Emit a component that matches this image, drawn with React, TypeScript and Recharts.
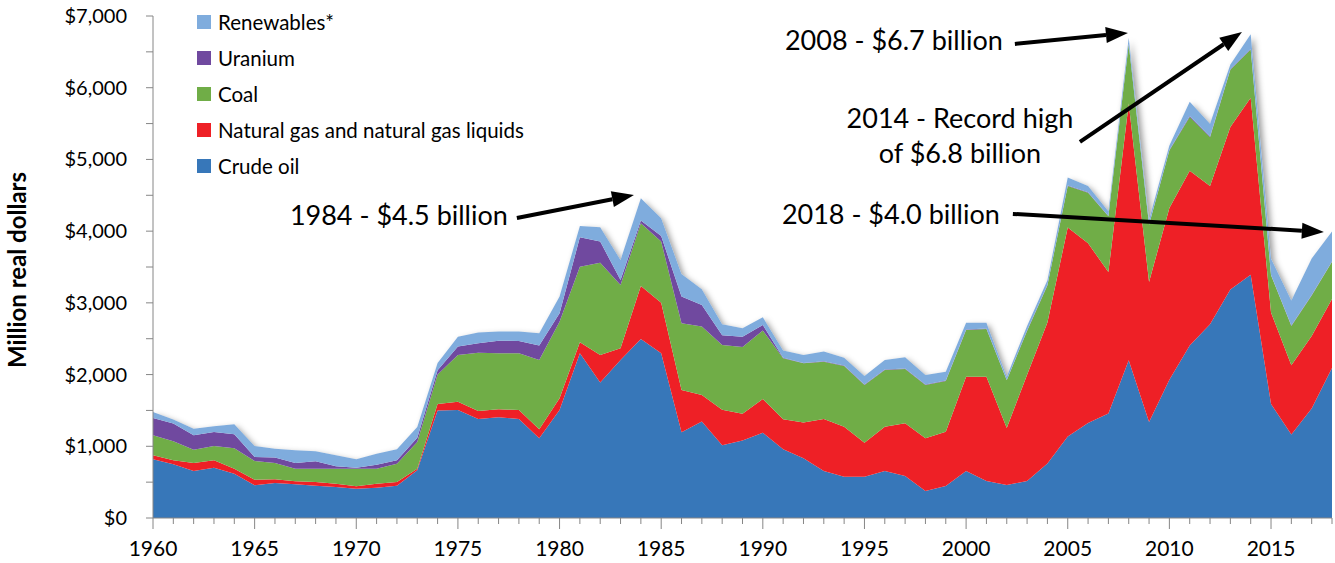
import { AreaChart, Area, XAxis, YAxis, Legend, ReferenceLine, Label } from 'recharts';

const years = [
  1960, 1961, 1962, 1963, 1964, 1965, 1966, 1967, 1968, 1969,
  1970, 1971, 1972, 1973, 1974, 1975, 1976, 1977, 1978, 1979,
  1980, 1981, 1982, 1983, 1984, 1985, 1986, 1987, 1988, 1989,
  1990, 1991, 1992, 1993, 1994, 1995, 1996, 1997, 1998, 1999,
  2000, 2001, 2002, 2003, 2004, 2005, 2006, 2007, 2008, 2009,
  2010, 2011, 2012, 2013, 2014, 2015, 2016, 2017, 2018,
];

const crudeOil = [
  818, 749, 656, 702, 618, 456, 488, 470, 451, 432,
  409, 423, 451, 665, 1500, 1506, 1381, 1404, 1381, 1111,
  1506, 2297, 1888, 2204, 2497, 2297, 1195, 1344, 1013, 1080,
  1190, 958, 832, 656, 576, 576, 656, 586, 377, 446,
  656, 516, 460, 517, 761, 1137, 1325, 1457, 2200, 1340,
  1927, 2406, 2703, 3187, 3393, 1589, 1166, 1528, 2092,
];
const naturalGas = [
  56, 56, 111, 103, 70, 79, 51, 42, 51, 47,
  33, 56, 51, 23, 90, 116, 111, 112, 125, 126,
  163, 153, 385, 162, 739, 706, 590, 371, 497, 375,
  470, 418, 498, 725, 698, 475, 618, 734, 734, 758,
  1315, 1455, 795, 1481, 1965, 2914, 2506, 1974, 3581, 1950,
  2397, 2435, 1927, 2265, 2468, 1278, 963, 1010, 963,
];
const coal = [
  279, 265, 186, 199, 284, 260, 228, 176, 186, 209,
  246, 209, 256, 372, 410, 651, 814, 781, 791, 967,
  1069, 1055, 1288, 884, 874, 851, 930, 954, 903, 928,
  953, 851, 827, 799, 846, 804, 790, 758, 744, 707,
  651, 665, 665, 611, 517, 579, 705, 776, 823, 799,
  799, 752, 681, 799, 672, 517, 550, 564, 517,
];
const uranium = [
  242, 246, 200, 196, 195, 56, 75, 79, 102, 33,
  14, 56, 47, 60, 60, 117, 130, 176, 172, 200,
  117, 409, 293, 69, 37, 79, 372, 302, 137, 146,
  79, 9, 5, 5, 5, 5, 5, 5, 5, 5,
  5, 5, 5, 5, 5, 5, 5, 5, 5, 5,
  10, 12, 9, 5, 7, 6, 6, 6, 6,
];
const renewables = [
  84, 56, 93, 79, 140, 153, 125, 177, 140, 153,
  116, 153, 153, 150, 100, 139, 149, 126, 130, 172,
  232, 159, 200, 279, 311, 246, 316, 218, 150, 116,
  107, 98, 111, 135, 111, 120, 135, 158, 134, 125,
  97, 83, 45, 65, 66, 112, 89, 65, 89, 66,
  61, 200, 179, 66, 205, 229, 347, 511, 417,
];

const yTicks = [0, 500, 1000, 1500, 2000, 2500, 3000, 3500, 4000, 4500, 5000, 5500, 6000, 6500, 7000];

const series = [
  { key: 'crude', name: 'Crude oil', color: '#3777b9' },
  { key: 'gas', name: 'Natural gas and natural gas liquids', color: '#ee2026' },
  { key: 'coal', name: 'Coal', color: '#70ad47' },
  { key: 'uranium', name: 'Uranium', color: '#70499f' },
  { key: 'renewables', name: 'Renewables*', color: '#7facdd' },
];

const rows = years.map((year, i) => ({
  year,
  crude: crudeOil[i],
  gas: naturalGas[i],
  coal: coal[i],
  uranium: uranium[i],
  renewables: renewables[i],
  total: crudeOil[i] + naturalGas[i] + coal[i] + uranium[i] + renewables[i],
}));

const axisGray = '#868686';
const FONT = 'Lato, "Open Sans", sans-serif';

const XTick = (props: any) => {
  const { x, y, payload } = props;
  const major = payload.value % 5 === 0;
  return (
    <g>
      <line x1={x} x2={x} y1={y} y2={y + (major ? 11 : 6)} stroke={axisGray} />
      {major && (
        <text x={x} y={y + 38} textAnchor="middle" fontSize={21} fill="#000">
          {payload.value}
        </text>
      )}
    </g>
  );
};

const YTick = (props: any) => {
  const { x, y, payload } = props;
  if (payload.value % 1000 !== 0) return <g />;
  return (
    <text x={x} y={y} dy="0.35em" textAnchor="end" fontSize={20} fill="#000">
      {'$' + payload.value.toLocaleString('en-US')}
    </text>
  );
};

const LegendBox = () => (
  <div style={{ fontFamily: FONT, fontSize: 20.5, color: '#000' }}>
    {[...series].reverse().map((s) => (
      <div key={s.key} style={{ height: 36, display: 'flex', alignItems: 'center' }}>
        <span style={{ width: 14, height: 14, background: s.color, marginRight: 7 }} />
        {s.name}
      </div>
    ))}
  </div>
);

// arrow with its caption; x1/y1 is the tail, x2/y2 the tip
const arrow = (lines: string[], dx: number, dy: number, anchor: 'start' | 'middle' | 'end') => (p: any) => {
  const { x1, y1, x2, y2 } = p;
  const a = Math.atan2(y2 - y1, x2 - x1);
  const len = 22;
  const w = 8;
  const bx = x2 - len * Math.cos(a);
  const by = y2 - len * Math.sin(a);
  const px = -Math.sin(a) * w;
  const py = Math.cos(a) * w;
  return (
    <g>
      <line x1={x1} y1={y1} x2={bx} y2={by} stroke="#000" strokeWidth={4} />
      <polygon points={`${x2},${y2} ${bx + px},${by + py} ${bx - px},${by - py}`} fill="#000" />
      {lines.map((t, i) => (
        <text key={i} x={x1 + dx} y={y1 + dy + i * 35} dy="0.35em" textAnchor={anchor} fontSize={27} fill="#000">
          {t}
        </text>
      ))}
    </g>
  );
};

function App() {
  return (
    <div style={{ position: 'absolute', left: 0, top: 0, fontFamily: FONT }}>
      <style>{`.shadow-area .recharts-area-area { filter: drop-shadow(3px 3px 3px rgba(0,0,0,0.4)); }`}</style>
      <AreaChart
        width={1335}
        height={563}
        data={rows}
        margin={{ top: 16, right: 3, left: 0, bottom: 0 }}
        style={{ fontFamily: FONT }}
      >
        <XAxis
          dataKey="year"
          type="number"
          domain={[1960, 2018]}
          ticks={years}
          interval={0}
          allowDataOverflow
          height={45}
          tickSize={0}
          tickMargin={0}
          tickLine={false}
          tick={<XTick />}
          axisLine={{ stroke: axisGray }}
        />
        <YAxis
          type="number"
          domain={[0, 7000]}
          ticks={yTicks}
          interval={0}
          allowDataOverflow
          width={153}
          tickSize={7}
          tickMargin={19}
          tick={<YTick />}
          tickLine={{ stroke: axisGray }}
          axisLine={{ stroke: axisGray }}
        >
          <Label
            content={(props: any) => {
              const vb = props.viewBox || { x: 0, y: 16, height: 502 };
              const cx = vb.x + 18;
              const cy = vb.y + vb.height / 2 + 3;
              return (
                <text
                  x={cx}
                  y={cy}
                  transform={`rotate(-90 ${cx} ${cy})`}
                  textAnchor="middle"
                  dy="0.35em"
                  fontSize={24}
                  fontWeight="bold"
                  fill="#000"
                >
                  Million real dollars
                </text>
              );
            }}
          />
        </YAxis>
        <Legend
          layout="vertical"
          align="center"
          verticalAlign="middle"
          content={<LegendBox />}
          wrapperStyle={{ left: 197, top: 4, width: 380, height: 180 }}
        />
        <Area
          dataKey="total"
          className="shadow-area"
          fill="#ffffff"
          fillOpacity={1}
          stroke="none"
          type="linear"
          legendType="none"
          isAnimationActive={false}
        />
        {series.map((s) => (
          <Area
            key={s.key}
            dataKey={s.key}
            name={s.name}
            stackId="a"
            type="linear"
            fill={s.color}
            fillOpacity={1}
            stroke="none"
            isAnimationActive={false}
          />
        ))}
        <ReferenceLine
          segment={[{ x: 1977.9, y: 4184 }, { x: 1983.66, y: 4505 }]}
          shape={arrow(['1984 - $4.5 billion'], -9, -2, 'end')}
        />
        <ReferenceLine
          segment={[{ x: 2002.4, y: 6611 }, { x: 2007.96, y: 6764 }]}
          shape={arrow(['2008 - $6.7 billion'], -12, -3, 'end')}
        />
        <ReferenceLine
          segment={[{ x: 2005.6, y: 5244 }, { x: 2013.57, y: 6778 }]}
          shape={arrow(['2014 - Record high', 'of $6.8 billion'], -120, -23, 'middle')}
        />
        <ReferenceLine
          segment={[{ x: 2002.3, y: 4240 }, { x: 2017.6, y: 3989 }]}
          shape={arrow(['2018 - $4.0 billion'], -13, 1, 'end')}
        />
      </AreaChart>
    </div>
  );
}

export default App;
